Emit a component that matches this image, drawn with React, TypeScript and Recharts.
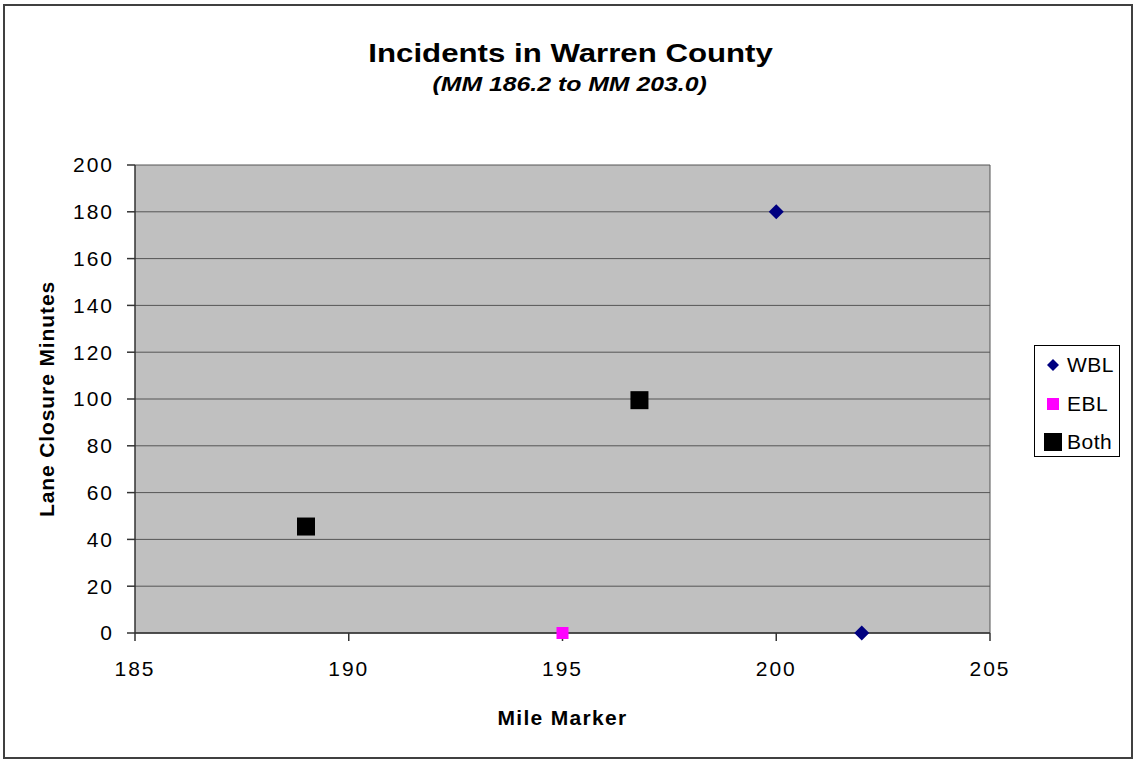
import React from "react";
import {
  ScatterChart,
  Scatter,
  XAxis,
  YAxis,
  CartesianGrid,
  Legend,
  Label,
} from "recharts";

// mile marker / lane closure minutes per direction
const wblMiles = [200, 202];
const wblMinutes = [180, 0];
const eblMiles = [195];
const eblMinutes = [0];
const bothMiles = [189, 196.8];
const bothMinutes = [45.5, 99.5];

const xTicks = [185, 190, 195, 200, 205];
const yTicks = [0, 20, 40, 60, 80, 100, 120, 140, 160, 180, 200];

const toPoints = (miles: number[], minutes: number[]) =>
  miles.map((m, i) => ({ mile: m, minutes: minutes[i] }));

const wblData = toPoints(wblMiles, wblMinutes);
const eblData = toPoints(eblMiles, eblMinutes);
const bothData = toPoints(bothMiles, bothMinutes);

const FONT = "'Liberation Sans', Arial, sans-serif";

const DiamondShape = (props: any) => {
  const { cx, cy } = props;
  const r = 7.5;
  return (
    <polygon
      points={`${cx},${cy - r} ${cx + r},${cy} ${cx},${cy + r} ${cx - r},${cy}`}
      fill="#000080"
    />
  );
};

const squareShape = (size: number, color: string) => (props: any) => {
  const { cx, cy } = props;
  return (
    <rect x={cx - size / 2} y={cy - size / 2} width={size} height={size} fill={color} />
  );
};

const legendItems = [
  { name: "WBL", color: "#000080", kind: "diamond" },
  { name: "EBL", color: "#FF00FF", kind: "small" },
  { name: "Both", color: "#000000", kind: "big" },
];

const LegendBox = () => (
  <div
    style={{
      border: "1px solid #000",
      background: "#fff",
      width: 86,
      height: 112,
      boxSizing: "border-box",
      paddingTop: 0,
      fontFamily: FONT,
      fontSize: 21,
    }}
  >
    {legendItems.map((it) => (
      <div
        key={it.name}
        style={{ display: "flex", alignItems: "center", height: 38.5, paddingLeft: 8 }}
      >
        <svg width={22} height={20} style={{ marginRight: 2 }}>
          {it.kind === "diamond" && (
            <polygon points="10,4 16,10 10,16 4,10" fill={it.color} />
          )}
          {it.kind === "small" && <rect x={4} y={4} width={12} height={12} fill={it.color} />}
          {it.kind === "big" && <rect x={1} y={1} width={18} height={18} fill={it.color} />}
        </svg>
        <span style={{ color: "#000", letterSpacing: 0.5 }}>{it.name}</span>
      </div>
    ))}
  </div>
);

export default function App() {
  return (
    <div
      style={{
        position: "absolute",
        left: 0,
        top: 0,
        width: 1133,
        height: 759,
        background: "#fff",
        fontFamily: FONT,
      }}
    >
      <div
        style={{
          position: "absolute",
          left: 3,
          top: 4,
          width: 1130,
          height: 755,
          boxSizing: "border-box",
          border: "2px solid #404040",
        }}
      />
      <div
        style={{
          position: "absolute",
          left: 0,
          width: 1141,
          top: 40,
          textAlign: "center",
          fontSize: 26,
          lineHeight: "26px",
          fontWeight: "bold",
          transform: "scaleX(1.2)",
          transformOrigin: "570px 0",
        }}
      >
        Incidents in Warren County
      </div>
      <div
        style={{
          position: "absolute",
          left: 0,
          width: 1139,
          top: 74,
          textAlign: "center",
          fontSize: 20,
          lineHeight: "20px",
          fontWeight: "bold",
          fontStyle: "italic",
          transform: "scaleX(1.24)",
          transformOrigin: "569px 0",
        }}
      >
        (MM 186.2 to MM 203.0)
      </div>
      <ScatterChart
        width={1133}
        height={759}
        margin={{ top: 165, right: 143, bottom: 16, left: 40 }}
        style={{ position: "absolute", left: 0, top: 0 }}
      >
        <CartesianGrid
          fill="#C0C0C0"
          stroke="#555"
          strokeWidth={1}
          verticalCoordinatesGenerator={({ offset }: any) => [offset.left + offset.width]}
        />
        <XAxis
          type="number"
          dataKey="mile"
          domain={[185, 205]}
          ticks={xTicks}
          height={110}
          tickSize={8}
          tickMargin={20}
          stroke="#333"
          strokeWidth={1.5}
          tick={{ fill: "#000", fontSize: 21, letterSpacing: 2, fontFamily: FONT }}
        >
          <Label
            value="Mile Marker"
            position="insideBottom"
            offset={18}
            style={{ fontSize: 21, fontWeight: "bold", letterSpacing: 1.3, fill: "#000", fontFamily: FONT }}
          />
        </XAxis>
        <YAxis
          type="number"
          dataKey="minutes"
          domain={[0, 200]}
          ticks={yTicks}
          width={95}
          tickSize={8}
          tickMargin={13}
          stroke="#333"
          strokeWidth={1.5}
          tick={{ fill: "#000", fontSize: 21, letterSpacing: 2, fontFamily: FONT }}
        >
          <Label
            value="Lane Closure Minutes"
            angle={-90}
            position="insideLeft"
            offset={7}
            style={{
              textAnchor: "middle",
              fontSize: 21,
              fontWeight: "bold",
              letterSpacing: 0.9,
              fill: "#000",
              fontFamily: FONT,
            }}
          />
        </YAxis>
        <Legend
          layout="horizontal"
          align="center"
          verticalAlign="middle"
          content={() => <LegendBox />}
          wrapperStyle={{ left: 1034, top: 345, width: 86, height: 112 }}
        />
        <Scatter name="WBL" data={wblData} shape={DiamondShape} isAnimationActive={false} />
        <Scatter name="EBL" data={eblData} shape={squareShape(12, "#FF00FF")} isAnimationActive={false} />
        <Scatter name="Both" data={bothData} shape={squareShape(18, "#000000")} isAnimationActive={false} />
      </ScatterChart>
    </div>
  );
}
